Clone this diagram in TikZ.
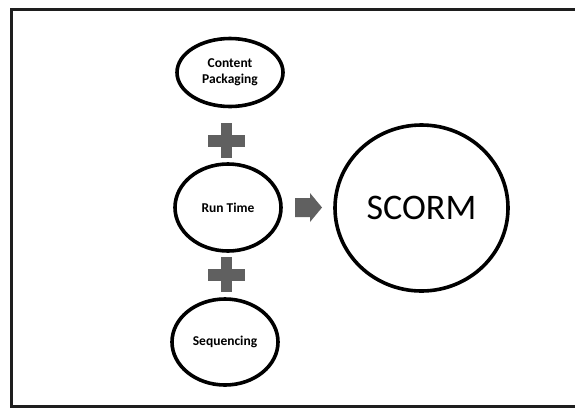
\documentclass[tikz,border=0pt]{standalone}
\usepackage{fontspec}
\setmainfont{Carlito}
\usetikzlibrary{shapes.geometric}
\definecolor{signgray}{HTML}{606060}
\definecolor{framegray}{HTML}{1E1E1E}
\tikzset{
  bubble/.style={draw=black, line width=3.6pt, ellipse, inner sep=0pt, align=center,
    font=\fontsize{13.5}{16}\selectfont\bfseries},
  plussign/.style={fill=signgray},
}
\begin{document}
\begin{tikzpicture}[x=1pt,y=-1pt]
\useasboundingbox (0,0) rectangle (575,408);
\fill[white] (0,0) rectangle (575,408);
\draw[framegray, line width=3pt] (11.5,9.5) rectangle (590,406.5);
% bubbles
\node[bubble, minimum width=106pt, minimum height=68pt] (cp) at (230,72.5) {Content\\Packaging};
\node[bubble, minimum width=106pt, minimum height=87pt] (rt) at (228,207.5) {Run Time};
\node[bubble, minimum width=106pt, minimum height=86pt] (sq) at (225,342) {\raisebox{-2pt}{Sequencing}};
\node[draw=black, line width=3.6pt, ellipse, inner sep=0pt, minimum width=173pt, minimum height=166pt,
  font=\fontsize{36}{40}\selectfont] (sc) at (421.5,208) {SCORM};
% plus signs
\coordinate (p1) at (226.5,140.5);
\coordinate (p2) at (226.5,274.5);
\foreach \p in {p1,p2}{
  \fill[plussign] ([xshift=-18.5pt,yshift=6pt]\p) rectangle ([xshift=18.5pt,yshift=-6pt]\p);
  \fill[plussign] ([xshift=-5.5pt,yshift=17.5pt]\p) rectangle ([xshift=5.5pt,yshift=-17.5pt]\p);
}
% arrow
\coordinate (ar) at (295,207.5);
\fill[signgray] (ar) ++(0,-9.5) -- ++(15,0) -- ++(0,-5) -- ++(12,14.5) -- ++(-12,14.5) -- ++(0,-5) -- ++(-15,0) -- cycle;
\end{tikzpicture}
\end{document}
